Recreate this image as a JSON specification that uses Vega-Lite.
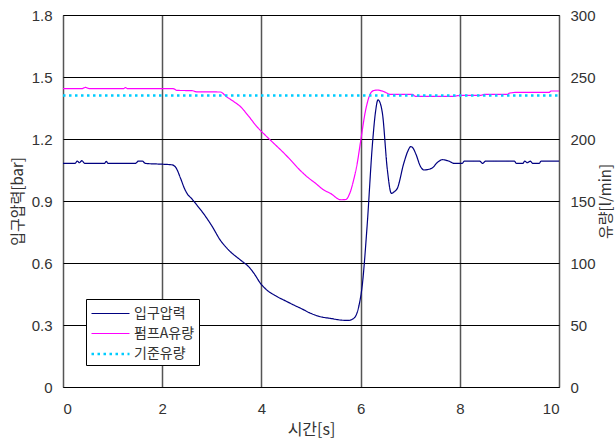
{
  "$schema": "https://vega.github.io/schema/vega-lite/v6.json",
  "width": 496,
  "height": 372,
  "autosize": {"type": "none"},
  "padding": {"left": 63, "top": 15, "right": 56, "bottom": 56},
  "background": "white",
  "config": {
    "view": {"stroke": "black", "strokeWidth": 1},
    "axis": {
      "domain": false,
      "ticks": false,
      "labelFont": "Liberation Sans",
      "labelFontSize": 15,
      "labelColor": "#333333",
      "titleFont": "Noto Sans CJK KR",
      "titleFontSize": 16,
      "titleFontWeight": "normal",
      "titleColor": "#333333"
    },
    "legend": {
      "orient": "none",
      "legendX": 23,
      "legendY": 284,
      "direction": "vertical",
      "strokeColor": "black",
      "fillColor": "white",
      "padding": 4,
      "symbolType": "M-1,0H3",
      "symbolSize": 361,
      "labelFont": "Noto Sans CJK KR",
      "labelFontSize": 14,
      "labelColor": "#333333",
      "labelOffset": 22,
      "rowPadding": 2
    }
  },
  "layer": [
    {
      "data": {
        "values": [
          {"t": 0.00, "v": 1.082, "series": "입구압력"},
          {"t": 0.24, "v": 1.082, "series": "입구압력"},
          {"t": 0.29, "v": 1.093, "series": "입구압력"},
          {"t": 0.33, "v": 1.085, "series": "입구압력"},
          {"t": 0.38, "v": 1.095, "series": "입구압력"},
          {"t": 0.44, "v": 1.082, "series": "입구압력"},
          {"t": 0.84, "v": 1.082, "series": "입구압력"},
          {"t": 0.87, "v": 1.092, "series": "입구압력"},
          {"t": 0.91, "v": 1.082, "series": "입구압력"},
          {"t": 1.46, "v": 1.082, "series": "입구압력"},
          {"t": 1.52, "v": 1.093, "series": "입구압력"},
          {"t": 1.60, "v": 1.093, "series": "입구압력"},
          {"t": 1.66, "v": 1.082, "series": "입구압력"},
          {"t": 2.00, "v": 1.078, "series": "입구압력"},
          {"t": 2.20, "v": 1.075, "series": "입구압력"},
          {"t": 2.28, "v": 1.06, "series": "입구압력"},
          {"t": 2.37, "v": 1.01, "series": "입구압력"},
          {"t": 2.45, "v": 0.96, "series": "입구압력"},
          {"t": 2.50, "v": 0.937, "series": "입구압력"},
          {"t": 2.60, "v": 0.91, "series": "입구압력"},
          {"t": 2.70, "v": 0.88, "series": "입구압력"},
          {"t": 2.83, "v": 0.84, "series": "입구압력"},
          {"t": 3.00, "v": 0.78, "series": "입구압력"},
          {"t": 3.17, "v": 0.711, "series": "입구압력"},
          {"t": 3.35, "v": 0.66, "series": "입구압력"},
          {"t": 3.58, "v": 0.614, "series": "입구압력"},
          {"t": 3.75, "v": 0.58, "series": "입구압력"},
          {"t": 3.85, "v": 0.55, "series": "입구압력"},
          {"t": 3.98, "v": 0.502, "series": "입구압력"},
          {"t": 4.11, "v": 0.469, "series": "입구압력"},
          {"t": 4.32, "v": 0.437, "series": "입구압력"},
          {"t": 4.50, "v": 0.415, "series": "입구압력"},
          {"t": 4.65, "v": 0.397, "series": "입구압력"},
          {"t": 4.80, "v": 0.38, "series": "입구압력"},
          {"t": 4.99, "v": 0.357, "series": "입구압력"},
          {"t": 5.19, "v": 0.34, "series": "입구압력"},
          {"t": 5.39, "v": 0.332, "series": "입구압력"},
          {"t": 5.60, "v": 0.324, "series": "입구압력"},
          {"t": 5.75, "v": 0.322, "series": "입구압력"},
          {"t": 5.86, "v": 0.332, "series": "입구압력"},
          {"t": 5.93, "v": 0.36, "series": "입구압력"},
          {"t": 5.97, "v": 0.397, "series": "입구압력"},
          {"t": 6.03, "v": 0.485, "series": "입구압력"},
          {"t": 6.13, "v": 0.775, "series": "입구압력"},
          {"t": 6.24, "v": 1.179, "series": "입구압력"},
          {"t": 6.30, "v": 1.33, "series": "입구압력"},
          {"t": 6.35, "v": 1.389, "series": "입구압력"},
          {"t": 6.40, "v": 1.37, "series": "입구압력"},
          {"t": 6.44, "v": 1.324, "series": "입구압력"},
          {"t": 6.54, "v": 1.05, "series": "입구압력"},
          {"t": 6.62, "v": 0.937, "series": "입구압력"},
          {"t": 6.68, "v": 0.945, "series": "입구압력"},
          {"t": 6.74, "v": 0.961, "series": "입구압력"},
          {"t": 6.87, "v": 1.082, "series": "입구압력"},
          {"t": 6.95, "v": 1.14, "series": "입구압력"},
          {"t": 7.01, "v": 1.163, "series": "입구압력"},
          {"t": 7.06, "v": 1.155, "series": "입구압력"},
          {"t": 7.11, "v": 1.13, "series": "입구압력"},
          {"t": 7.21, "v": 1.066, "series": "입구압력"},
          {"t": 7.28, "v": 1.05, "series": "입구압력"},
          {"t": 7.35, "v": 1.052, "series": "입구압력"},
          {"t": 7.45, "v": 1.061, "series": "입구압력"},
          {"t": 7.55, "v": 1.087, "series": "입구압력"},
          {"t": 7.65, "v": 1.1, "series": "입구압력"},
          {"t": 7.78, "v": 1.093, "series": "입구압력"},
          {"t": 7.89, "v": 1.082, "series": "입구압력"},
          {"t": 8.05, "v": 1.082, "series": "입구압력"},
          {"t": 8.09, "v": 1.093, "series": "입구압력"},
          {"t": 8.40, "v": 1.093, "series": "입구압력"},
          {"t": 8.46, "v": 1.082, "series": "입구압력"},
          {"t": 8.52, "v": 1.093, "series": "입구압력"},
          {"t": 9.10, "v": 1.093, "series": "입구압력"},
          {"t": 9.14, "v": 1.082, "series": "입구압력"},
          {"t": 9.27, "v": 1.082, "series": "입구압력"},
          {"t": 9.31, "v": 1.093, "series": "입구압력"},
          {"t": 9.36, "v": 1.085, "series": "입구압력"},
          {"t": 9.42, "v": 1.093, "series": "입구압력"},
          {"t": 9.47, "v": 1.082, "series": "입구압력"},
          {"t": 9.60, "v": 1.082, "series": "입구압력"},
          {"t": 9.64, "v": 1.093, "series": "입구압력"},
          {"t": 10.0, "v": 1.093, "series": "입구압력"}
        ]
      },
      "mark": {"type": "line", "strokeWidth": 1.2, "interpolate": "monotone", "clip": true},
      "encoding": {
        "x": {
          "field": "t", "type": "quantitative",
          "scale": {"domain": [0, 10], "nice": false},
          "axis": {
            "title": "시간[s]",
            "values": [0, 2, 4, 6, 8, 10],
            "labelPadding": 14,
            "titlePadding": 5,
            "grid": true,
            "gridColor": "#555555",
            "gridWidth": 1.5
          }
        },
        "y": {
          "field": "v", "type": "quantitative",
          "scale": {"domain": [0, 1.8], "nice": false, "zero": false},
          "axis": {
            "title": "입구압력[bar]",
            "orient": "left",
            "values": [0, 0.3, 0.6, 0.9, 1.2, 1.5, 1.8],
            "format": ".1~f",
            "labelPadding": 11,
            "titleX": -46,
            "titleY": 186,
            "titleAngle": -90,
            "titleAlign": "center",
            "titleBaseline": "middle",
            "titleFontSize": 15,
            "grid": true,
            "gridColor": "black",
            "gridWidth": 1
          }
        },
        "color": {
          "field": "series", "type": "nominal",
          "scale": {"domain": ["입구압력", "펌프A유량", "기준유량"], "range": ["#000080", "#FF00FF", "#00CCFF"]},
          "legend": {"title": null}
        },
        "strokeDash": {
          "field": "series", "type": "nominal",
          "scale": {"domain": ["입구압력", "펌프A유량", "기준유량"], "range": [[1, 0], [1, 0], [2.5, 3.5]]},
          "legend": {"title": null}
        },
        "strokeWidth": {
          "field": "series", "type": "nominal",
          "scale": {"type": "ordinal", "domain": ["입구압력", "펌프A유량", "기준유량"], "range": [1.2, 1.2, 2.5]},
          "legend": {"title": null}
        }
      }
    },
    {
      "data": {
        "values": [
          {"t": 0.00, "v": 240.6, "series": "펌프A유량"},
          {"t": 0.38, "v": 240.6, "series": "펌프A유량"},
          {"t": 0.45, "v": 241.6, "series": "펌프A유량"},
          {"t": 0.54, "v": 240.6, "series": "펌프A유량"},
          {"t": 1.22, "v": 240.6, "series": "펌프A유량"},
          {"t": 1.26, "v": 241.5, "series": "펌프A유량"},
          {"t": 1.30, "v": 240.6, "series": "펌프A유량"},
          {"t": 2.22, "v": 240.6, "series": "펌프A유량"},
          {"t": 2.30, "v": 239.2, "series": "펌프A유량"},
          {"t": 2.60, "v": 239.0, "series": "펌프A유량"},
          {"t": 2.70, "v": 238.0, "series": "펌프A유량"},
          {"t": 3.17, "v": 237.9, "series": "펌프A유량"},
          {"t": 3.30, "v": 234.0, "series": "펌프A유량"},
          {"t": 3.45, "v": 230.0, "series": "펌프A유량"},
          {"t": 3.58, "v": 226.0, "series": "펌프A유량"},
          {"t": 3.75, "v": 218.0, "series": "펌프A유량"},
          {"t": 3.91, "v": 209.9, "series": "펌프A유량"},
          {"t": 4.08, "v": 203.0, "series": "펌프A유량"},
          {"t": 4.25, "v": 196.5, "series": "펌프A유량"},
          {"t": 4.42, "v": 190.0, "series": "펌프A유량"},
          {"t": 4.59, "v": 183.0, "series": "펌프A유량"},
          {"t": 4.75, "v": 176.0, "series": "펌프A유량"},
          {"t": 4.92, "v": 169.6, "series": "펌프A유량"},
          {"t": 5.10, "v": 164.0, "series": "펌프A유량"},
          {"t": 5.26, "v": 158.8, "series": "펌프A유량"},
          {"t": 5.39, "v": 156.2, "series": "펌프A유량"},
          {"t": 5.60, "v": 151.0, "series": "펌프A유량"},
          {"t": 5.70, "v": 151.2, "series": "펌프A유량"},
          {"t": 5.78, "v": 156.0, "series": "펌프A유량"},
          {"t": 5.86, "v": 167.0, "series": "펌프A유량"},
          {"t": 5.93, "v": 180.0, "series": "펌프A유량"},
          {"t": 6.00, "v": 198.0, "series": "펌프A유량"},
          {"t": 6.10, "v": 223.0, "series": "펌프A유량"},
          {"t": 6.20, "v": 236.8, "series": "펌프A유량"},
          {"t": 6.26, "v": 239.0, "series": "펌프A유량"},
          {"t": 6.34, "v": 239.5, "series": "펌프A유량"},
          {"t": 6.45, "v": 238.5, "series": "펌프A유량"},
          {"t": 6.61, "v": 236.0, "series": "펌프A유량"},
          {"t": 7.04, "v": 236.0, "series": "펌프A유량"},
          {"t": 7.11, "v": 234.4, "series": "펌프A유량"},
          {"t": 7.85, "v": 234.4, "series": "펌프A유량"},
          {"t": 8.02, "v": 235.2, "series": "펌프A유량"},
          {"t": 8.42, "v": 235.2, "series": "펌프A유량"},
          {"t": 8.49, "v": 236.0, "series": "펌프A유량"},
          {"t": 8.96, "v": 236.0, "series": "펌프A유량"},
          {"t": 9.00, "v": 237.0, "series": "펌프A유량"},
          {"t": 9.16, "v": 237.6, "series": "펌프A유량"},
          {"t": 9.80, "v": 237.6, "series": "펌프A유량"},
          {"t": 9.84, "v": 238.7, "series": "펌프A유량"},
          {"t": 10.0, "v": 238.7, "series": "펌프A유량"},
          {"t": 0.0, "v": 235, "series": "기준유량"},
          {"t": 10.0, "v": 235, "series": "기준유량"}
        ]
      },
      "mark": {"type": "line", "interpolate": "monotone", "clip": true},
      "encoding": {
        "x": {"field": "t", "type": "quantitative", "scale": {"domain": [0, 10], "nice": false}},
        "y": {
          "field": "v", "type": "quantitative",
          "scale": {"domain": [0, 300], "nice": false},
          "axis": {
            "title": "유량[l/min]",
            "orient": "right",
            "values": [0, 50, 100, 150, 200, 250, 300],
            "labelPadding": 11,
            "titleX": 46,
            "titleY": 186,
            "titleAngle": -90,
            "titleAlign": "center",
            "titleBaseline": "middle",
            "titleFontSize": 15,
            "grid": false
          }
        },
        "color": {
          "field": "series", "type": "nominal",
          "scale": {"domain": ["입구압력", "펌프A유량", "기준유량"], "range": ["#000080", "#FF00FF", "#00CCFF"]},
          "legend": {"title": null}
        },
        "strokeDash": {
          "field": "series", "type": "nominal",
          "scale": {"domain": ["입구압력", "펌프A유량", "기준유량"], "range": [[1, 0], [1, 0], [2.5, 3.5]]},
          "legend": {"title": null}
        },
        "strokeWidth": {
          "field": "series", "type": "nominal",
          "scale": {"type": "ordinal", "domain": ["입구압력", "펌프A유량", "기준유량"], "range": [1.2, 1.2, 2.5]},
          "legend": {"title": null}
        }
      }
    }
  ],
  "resolve": {"scale": {"y": "independent"}, "axis": {"y": "independent"}}
}
